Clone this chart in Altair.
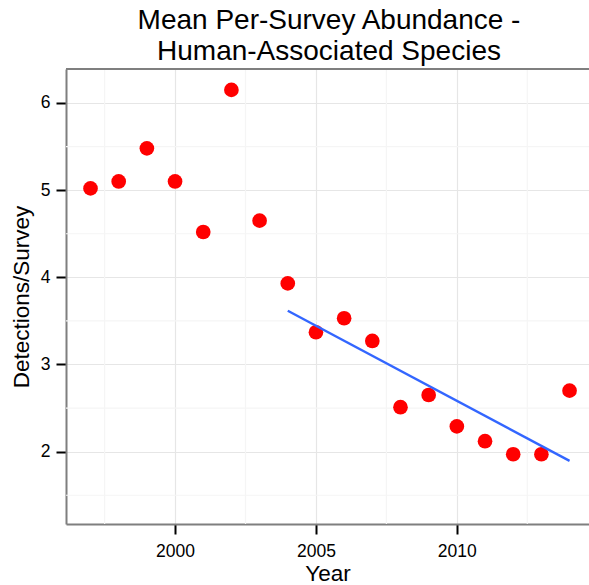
import altair as alt
import pandas as pd

years = [1997, 1998, 1999, 2000, 2001, 2002, 2003, 2004, 2005, 2006, 2007,
         2008, 2009, 2010, 2011, 2012, 2013, 2014]
abundance = [5.02, 5.10, 5.48, 5.10, 4.52, 6.15, 4.65, 3.93, 3.37, 3.53, 3.27,
             2.51, 2.65, 2.29, 2.12, 1.97, 1.97, 2.70]
fit_start = 2004
x_major = [2000, 2005, 2010]
x_minor = [1997.5, 2002.5, 2007.5, 2012.5]
y_major = [2, 3, 4, 5, 6]
y_minor = [1.5, 2.5, 3.5, 4.5, 5.5]

df = pd.DataFrame({"Year": years, "Abundance": abundance})

FONT = "Liberation Sans"
W, H = 523, 455

x_scale = alt.Scale(domain=[1996.13, 2014.69], nice=False, zero=False)
y_scale = alt.Scale(domain=[1.17, 6.39], nice=False, zero=False)
x_axis = alt.Axis(values=x_major, format="d", title="Year")
y_axis = alt.Axis(values=y_major, format="d", title="Detections/Survey")

minor_x = alt.Chart(pd.DataFrame({"v": x_minor})).mark_rule(
    color="#f5f5f5", strokeWidth=1.2
).encode(x=alt.X("v:Q", scale=x_scale, axis=x_axis))

minor_y = alt.Chart(pd.DataFrame({"v": y_minor})).mark_rule(
    color="#f5f5f5", strokeWidth=1.2
).encode(y=alt.Y("v:Q", scale=y_scale, axis=y_axis))

base = alt.Chart(df)

points = base.mark_circle(color="#ff0000", opacity=1, size=215).encode(
    x=alt.X("Year:Q", scale=x_scale, axis=x_axis),
    y=alt.Y("Abundance:Q", scale=y_scale, axis=y_axis),
)

fit = base.transform_filter(alt.datum.Year >= fit_start).transform_regression(
    "Year", "Abundance", extent=[fit_start, 2014]
).mark_line(color="#3366ff", strokeWidth=2.4).encode(
    x=alt.X("Year:Q", scale=x_scale, axis=x_axis),
    y=alt.Y("Abundance:Q", scale=y_scale, axis=y_axis),
)

top_border = alt.Chart(alt.Data(values=[{"a": 1}])).mark_rule(
    color="#7f7f7f", strokeWidth=2
).encode(x=alt.value(0), x2=alt.value(W), y=alt.value(0))

chart = alt.layer(minor_x, minor_y, points, fit, top_border).properties(
    width=W, height=H,
    background="white",
    title=alt.Title(
        text=["Mean Per-Survey Abundance -\u00a0", "\u00a0Human-Associated Species"],
        fontSize=28, font=FONT, fontWeight="normal", color="black",
        lineHeight=31, anchor="middle", offset=2, dx=1.5,
    ),
    autosize=alt.AutoSizeParams(type="none"),
    padding={"left": 66, "top": 69, "right": 0, "bottom": 61},
).configure_view(stroke=None).configure_axis(
    labelFont=FONT, titleFont=FONT, labelFontSize=17.5, titleFontSize=22.5,
    labelColor="black", titleColor="black", titleFontWeight="normal",
    domainColor="#7f7f7f", domainWidth=2, tickColor="black", tickWidth=2,
    tickSize=10, grid=True, gridColor="#e6e6e6", gridWidth=1.2,
).configure_axisX(labelPadding=8, titlePadding=3).configure_axisY(
    labelPadding=6, titlePadding=7
)

chart.save("out.html", embed_options={"renderer": "svg", "actions": False})
